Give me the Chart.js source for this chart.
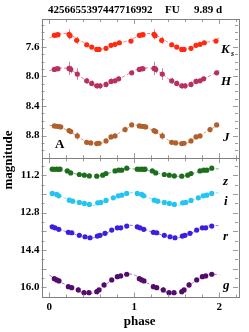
<!DOCTYPE html>
<html><head><meta charset="utf-8">
<script src="https://cdn.jsdelivr.net/npm/chart.js@4.4.0/dist/chart.umd.min.js"></script>
<style>html,body{margin:0;padding:0;background:#fff;}canvas{display:block;}</style>
</head><body>
<canvas id="c" width="249" height="332"></canvas>
<script>
// ---------- data ----------
const titleParts = ["4256655397447716992", "FU", "9.89 d"];
const xTicks = [0, 1, 2];
const topTicks = [7.6, 8.0, 8.4, 8.8];
const botTicks = [11.2, 12.0, 12.8, 13.6, 14.4, 15.2, 16.0];
const fitPhase = [0, 0.1, 0.2, 0.3, 0.4, 0.5, 0.6, 0.7, 0.8, 0.9, 1.0];

const ksPhase = [0.059,0.079,0.102,0.232,0.244,0.322,0.44,0.499,0.558,0.585,0.667,0.726,0.773,0.824,0.961];
const ksMag   = [7.444,7.440,7.435,7.430,7.449,7.512,7.571,7.602,7.634,7.634,7.620,7.579,7.566,7.544,7.521];
const ksErr   = [0.02,0.02,0.02,0.07,0.03,0.05,0.03,0.02,0.02,0.02,0.03,0.03,0.03,0.02,0.02];
const ksFit   = [7.48,7.435,7.42,7.47,7.54,7.60,7.63,7.605,7.555,7.525,7.48];

const hPhase = [0.059,0.087,0.102,0.232,0.252,0.329,0.44,0.499,0.558,0.597,0.667,0.726,0.773,0.816,0.969];
const hMag   = [7.905,7.896,7.896,7.891,7.905,7.968,8.059,8.094,8.127,8.127,8.108,8.067,8.059,8.032,7.951];
const hErr   = [0.03,0.03,0.03,0.09,0.05,0.08,0.04,0.04,0.04,0.04,0.04,0.04,0.03,0.03,0.03];
const hFit   = [7.92,7.89,7.89,7.945,8.03,8.10,8.13,8.10,8.045,7.985,7.92];

const jPhase = [0.059,0.087,0.111,0.134,0.232,0.252,0.329,0.44,0.487,0.558,0.585,0.667,0.726,0.773,0.891,0.969];
const jMag   = [8.669,8.673,8.677,8.682,8.731,8.745,8.804,8.890,8.899,8.907,8.903,8.872,8.818,8.804,8.718,8.655];
const jErr   = [0.02,0.02,0.02,0.02,0.03,0.03,0.05,0.03,0.03,0.02,0.02,0.03,0.03,0.03,0.04,0.02];
const jFit   = [8.66,8.675,8.72,8.785,8.86,8.90,8.905,8.855,8.78,8.71,8.66];

const zPhase = [0.035,0.059,0.087,0.111,0.126,0.212,0.252,0.353,0.412,0.471,0.558,0.628,0.667,0.773,0.816,0.852,0.911];
const zMag   = [10.939,10.942,10.939,10.945,10.939,11.012,11.098,11.166,11.196,11.226,11.239,11.196,11.123,11.012,10.982,10.982,10.897];
const zErr   = [0.02,0.02,0.02,0.02,0.02,0.02,0.02,0.02,0.02,0.02,0.02,0.02,0.02,0.02,0.02,0.02,0.02];
const zFit   = [10.93,10.96,11.03,11.13,11.20,11.24,11.22,11.11,11.00,10.92,10.93];

const iPhase = [0.035,0.087,0.111,0.235,0.275,0.353,0.412,0.471,0.569,0.605,0.667,0.753,0.812,0.852,0.911];
const iMag   = [11.979,12.022,12.082,12.266,12.309,12.364,12.407,12.450,12.381,12.364,12.279,12.167,12.082,12.052,11.979];
const iErr   = [0.03,0.03,0.03,0.03,0.03,0.03,0.03,0.03,0.03,0.03,0.03,0.03,0.03,0.03,0.03];
const iFit   = [11.955,12.05,12.20,12.33,12.43,12.50,12.40,12.24,12.09,11.97,11.955];

const rPhase = [0.035,0.067,0.111,0.224,0.264,0.353,0.42,0.479,0.565,0.596,0.655,0.734,0.80,0.84,0.911];
const rMag   = [13.408,13.451,13.519,13.647,13.665,13.776,13.836,13.878,13.806,13.776,13.690,13.549,13.451,13.451,13.378];
const rErr   = [0.03,0.03,0.03,0.03,0.03,0.03,0.03,0.03,0.03,0.03,0.03,0.03,0.03,0.03,0.03];
const rFit   = [13.37,13.49,13.62,13.73,13.83,13.89,13.80,13.63,13.47,13.34,13.37];

const gPhase = [0.059,0.087,0.114,0.224,0.264,0.341,0.408,0.467,0.558,0.585,0.644,0.734,0.80,0.84,0.911];
const gMag   = [15.633,15.688,15.731,15.975,16.018,16.116,16.231,16.231,16.189,16.116,15.902,15.688,15.547,15.517,15.444];
const gErr   = [0.05,0.05,0.05,0.06,0.06,0.12,0.06,0.06,0.12,0.08,0.12,0.08,0.06,0.06,0.06];
const gFit   = [15.47,15.72,15.90,16.08,16.24,16.26,16.08,15.78,15.56,15.44,15.47];

// ---------- build datasets ----------
function twoCycles(ph, mag) {
  const out = [];
  for (let c = 0; c < 2; c++) ph.forEach((p, k) => out.push({x: p + c, y: mag[k]}));
  return out;
}
function twoErr(err) { return err.concat(err); }
function fitCycles(ph, fit) {
  const out = [];
  ph.forEach((p, k) => out.push({x: p, y: fit[k]}));
  ph.forEach((p, k) => { if (k > 0) out.push({x: p + 1, y: fit[k]}); });
  return out;
}
const bands = [
  {ph: ksPhase, m: ksMag, e: ksErr, f: ksFit, axis: 'yTop', col: '#ff2a12', light: '#ff8470'},
  {ph: hPhase,  m: hMag,  e: hErr,  f: hFit,  axis: 'yTop', col: '#b8305e', light: '#d4809f'},
  {ph: jPhase,  m: jMag,  e: jErr,  f: jFit,  axis: 'yTop', col: '#b0602c', light: '#d49c78'},
  {ph: zPhase,  m: zMag,  e: zErr,  f: zFit,  axis: 'yBot', col: '#1c6e1c', light: '#74b074'},
  {ph: iPhase,  m: iMag,  e: iErr,  f: iFit,  axis: 'yBot', col: '#22c4f2', light: '#86dcf6'},
  {ph: rPhase,  m: rMag,  e: rErr,  f: rFit,  axis: 'yBot', col: '#3a1fe0', light: '#8c7cec'},
  {ph: gPhase,  m: gMag,  e: gErr,  f: gFit,  axis: 'yBot', col: '#540c6c', light: '#9a78ac'}
];
const datasets = [];
bands.forEach(b => {
  datasets.push({
    type: 'line', data: fitCycles(fitPhase, b.f), yAxisID: b.axis,
    borderColor: b.light, borderWidth: 1, borderDash: [3, 2], pointRadius: 0,
    tension: 0.4, fill: false, order: 3
  });
  datasets.push({
    type: 'scatter', data: twoCycles(b.ph, b.m), errors: twoErr(b.e), errColor: b.light,
    yAxisID: b.axis, backgroundColor: b.col, borderWidth: 0, pointRadius: 2.6, order: 1
  });
});

const SERIF = "'Liberation Serif', 'DejaVu Serif', serif";

const decor = {
  id: 'decor',
  beforeDatasetsDraw(chart) {
    const ctx = chart.ctx;
    chart.data.datasets.forEach((ds, i) => {
      if (!ds.errors) return;
      const meta = chart.getDatasetMeta(i);
      const ys = chart.scales[ds.yAxisID];
      ctx.save();
      ctx.strokeStyle = ds.errColor; ctx.lineWidth = 1;
      meta.data.forEach((el, j) => {
        const v = ds.data[j].y, e = ds.errors[j];
        const x = Math.round(el.x) + 0.5;
        ctx.beginPath();
        ctx.moveTo(x, ys.getPixelForValue(v - e));
        ctx.lineTo(x, ys.getPixelForValue(v + e));
        ctx.stroke();
      });
      ctx.restore();
    });
  },
  afterDraw(chart) {
    const ctx = chart.ctx, a = chart.chartArea, xs = chart.scales.x;
    const panels = [
      {s: chart.scales.yTop, step: 0.1, from: 7.3, to: 9.1, major: topTicks},
      {s: chart.scales.yBot, step: 0.4, from: 10.4, to: 16.4, major: botTicks}
    ];
    ctx.save();
    ctx.lineWidth = 1;
    panels.forEach(p => {
      const t = p.s.top, b = p.s.bottom;
      ctx.strokeStyle = '#9a9a9a';
      ctx.beginPath();
      for (let k = 0; k <= 11; k++) {
        const v = k * 0.2;
        const px = Math.round(xs.getPixelForValue(v)) + 0.5;
        if (px <= a.left + 1 || px >= a.right - 1) continue;
        const len = (k % 5 === 0) ? 5 : 3;
        ctx.moveTo(px, b); ctx.lineTo(px, b - len);
        ctx.moveTo(px, t); ctx.lineTo(px, t + len);
      }
      const n = Math.round((p.to - p.from) / p.step);
      for (let k = 0; k <= n; k++) {
        const v = p.from + k * p.step;
        const py = Math.round(p.s.getPixelForValue(v)) + 0.5;
        if (py <= t + 1 || py >= b - 1) continue;
        const isMaj = p.major.some(m => Math.abs(m - v) < 1e-6);
        const len = isMaj ? 5 : 3;
        ctx.moveTo(a.left, py); ctx.lineTo(a.left + len, py);
        ctx.moveTo(a.right, py); ctx.lineTo(a.right - len, py);
      }
      ctx.stroke();
      ctx.strokeStyle = '#808080';
      ctx.strokeRect(Math.round(a.left) + 0.5, Math.round(t) + 0.5, Math.round(a.right - a.left), Math.round(b - t));
    });
    ctx.fillStyle = '#000';
    ctx.font = 'bold 11px ' + SERIF;
    ctx.textBaseline = 'alphabetic';
    ctx.textAlign = 'left';
    ctx.fillText(titleParts[0], 48, 12.5);
    ctx.fillText(titleParts[1], 165, 12.5);
    ctx.fillText(titleParts[2], 194, 12.5);
    ctx.save();
    ctx.translate(9, 160);
    ctx.rotate(-Math.PI / 2);
    ctx.font = 'bold 13px ' + SERIF;
    ctx.textAlign = 'center'; ctx.textBaseline = 'middle';
    ctx.fillText('magnitude', 0, 0);
    ctx.restore();
    ctx.font = 'bold italic 13px ' + SERIF;
    ctx.textAlign = 'left';
    ctx.fillText('K', 221, 53);
    ctx.font = 'bold italic 8px ' + SERIF;
    ctx.fillText('s', 231, 56);
    ctx.font = 'bold italic 13px ' + SERIF;
    ctx.fillText('H', 221, 85);
    ctx.fillText('J', 223, 141);
    ctx.fillText('z', 223, 185);
    ctx.fillText('i', 224, 205);
    ctx.fillText('r', 223, 240);
    ctx.fillText('g', 223, 289);
    ctx.font = 'bold 13px ' + SERIF;
    ctx.fillText('A', 55, 148);
    ctx.restore();
  }
};

const tickFont = {family: SERIF, size: 11, weight: 'bold'};
function yAxis(min, max, ticks) {
  return {
    type: 'linear', position: 'left', stack: 'mag', stackWeight: 1, reverse: true,
    min: min, max: max,
    grid: {display: false, drawTicks: false}, border: {display: false},
    afterBuildTicks: s => { s.ticks = ticks.map(v => ({value: v})); },
    afterFit: s => { s.width = 41.5; },
    ticks: {font: tickFont, color: '#000', padding: 2, callback: v => Number(v).toFixed(1)}
  };
}

new Chart(document.getElementById('c'), {
  data: {datasets: datasets},
  options: {
    responsive: false, animation: false, devicePixelRatio: 1,
    layout: {padding: {left: 0, right: 11, top: 19, bottom: 0}},
    plugins: {legend: {display: false}, tooltip: {enabled: false}, title: {display: false}},
    scales: {
      x: {
        type: 'linear', position: 'bottom', min: -0.092, max: 2.22,
        grid: {display: false, drawTicks: false}, border: {display: false},
        afterBuildTicks: s => { s.ticks = xTicks.map(v => ({value: v})); },
        afterFit: s => { s.height = 34.5; },
        ticks: {font: tickFont, color: '#000', padding: 3, callback: v => String(v)},
        title: {display: true, text: 'phase', color: '#000', font: {family: SERIF, size: 13, weight: 'bold'}, padding: {top: 0, bottom: 3}}
      },
      yBot: yAxis(10.47, 16.44, botTicks),
      yTop: yAxis(7.223, 9.106, topTicks)
    }
  },
  plugins: [decor]
});
</script>
</body></html>
